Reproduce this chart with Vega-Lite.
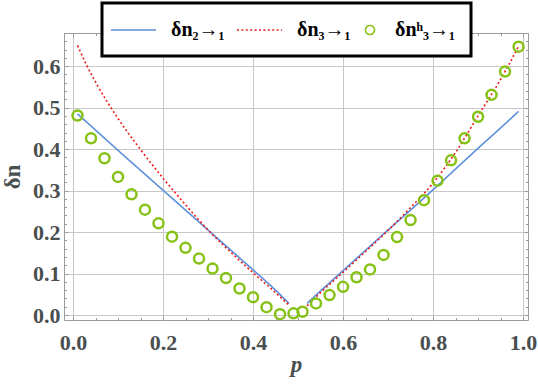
{
  "$schema": "https://vega.github.io/schema/vega-lite/v6.json",
  "width": 464,
  "height": 287,
  "autosize": {"type": "none"},
  "padding": {"left": 64, "top": 33, "right": 10, "bottom": 67},
  "background": "white",
  "config": {
    "view": {"stroke": "#9a9a9a", "strokeWidth": 1},
    "font": "Liberation Serif",
    "legend": {
      "orient": "none", "legendX": 38, "legendY": -30,
      "direction": "horizontal", "columnPadding": 8,
      "symbolSize": 400, "symbolStrokeWidth": 1.6, "labelOffset": 14,
      "labelFont": "Liberation Serif", "labelFontWeight": "bold", "labelFontSize": 20, "labelColor": "black",
      "titleOrient": "left", "titleFontSize": 10, "titlePadding": 17,
      "padding": 16, "strokeColor": "black", "strokeWidth": 3, "fillColor": "white", "cornerRadius": 0
    }
  },
  "datasets": {
    "lines": [
      {"series": "δn₂→₁", "seg": "L", "p": 0.01, "n": 0.485},
      {"series": "δn₂→₁", "seg": "L", "p": 0.05, "n": 0.446},
      {"series": "δn₂→₁", "seg": "L", "p": 0.1, "n": 0.397},
      {"series": "δn₂→₁", "seg": "L", "p": 0.15, "n": 0.349},
      {"series": "δn₂→₁", "seg": "L", "p": 0.2, "n": 0.301},
      {"series": "δn₂→₁", "seg": "L", "p": 0.25, "n": 0.253},
      {"series": "δn₂→₁", "seg": "L", "p": 0.3, "n": 0.205},
      {"series": "δn₂→₁", "seg": "L", "p": 0.35, "n": 0.157},
      {"series": "δn₂→₁", "seg": "L", "p": 0.4, "n": 0.109},
      {"series": "δn₂→₁", "seg": "L", "p": 0.45, "n": 0.06},
      {"series": "δn₂→₁", "seg": "L", "p": 0.48, "n": 0.028},
      {"series": "δn₂→₁", "seg": "R", "p": 0.52, "n": 0.028},
      {"series": "δn₂→₁", "seg": "R", "p": 0.55, "n": 0.058},
      {"series": "δn₂→₁", "seg": "R", "p": 0.6, "n": 0.107},
      {"series": "δn₂→₁", "seg": "R", "p": 0.65, "n": 0.156},
      {"series": "δn₂→₁", "seg": "R", "p": 0.7, "n": 0.205},
      {"series": "δn₂→₁", "seg": "R", "p": 0.75, "n": 0.253},
      {"series": "δn₂→₁", "seg": "R", "p": 0.8, "n": 0.302},
      {"series": "δn₂→₁", "seg": "R", "p": 0.85, "n": 0.352},
      {"series": "δn₂→₁", "seg": "R", "p": 0.9, "n": 0.402},
      {"series": "δn₂→₁", "seg": "R", "p": 0.95, "n": 0.451},
      {"series": "δn₂→₁", "seg": "R", "p": 0.99, "n": 0.491},
      {"series": "δn₃→₁", "seg": "L", "p": 0.01, "n": 0.65},
      {"series": "δn₃→₁", "seg": "L", "p": 0.03, "n": 0.603},
      {"series": "δn₃→₁", "seg": "L", "p": 0.05, "n": 0.562},
      {"series": "δn₃→₁", "seg": "L", "p": 0.1, "n": 0.474},
      {"series": "δn₃→₁", "seg": "L", "p": 0.15, "n": 0.399},
      {"series": "δn₃→₁", "seg": "L", "p": 0.2, "n": 0.33},
      {"series": "δn₃→₁", "seg": "L", "p": 0.25, "n": 0.266},
      {"series": "δn₃→₁", "seg": "L", "p": 0.3, "n": 0.205},
      {"series": "δn₃→₁", "seg": "L", "p": 0.35, "n": 0.152},
      {"series": "δn₃→₁", "seg": "L", "p": 0.4, "n": 0.102},
      {"series": "δn₃→₁", "seg": "L", "p": 0.45, "n": 0.054},
      {"series": "δn₃→₁", "seg": "L", "p": 0.48, "n": 0.024},
      {"series": "δn₃→₁", "seg": "R", "p": 0.52, "n": 0.022},
      {"series": "δn₃→₁", "seg": "R", "p": 0.55, "n": 0.054},
      {"series": "δn₃→₁", "seg": "R", "p": 0.6, "n": 0.103},
      {"series": "δn₃→₁", "seg": "R", "p": 0.65, "n": 0.153},
      {"series": "δn₃→₁", "seg": "R", "p": 0.7, "n": 0.204},
      {"series": "δn₃→₁", "seg": "R", "p": 0.75, "n": 0.259},
      {"series": "δn₃→₁", "seg": "R", "p": 0.8, "n": 0.318},
      {"series": "δn₃→₁", "seg": "R", "p": 0.85, "n": 0.392},
      {"series": "δn₃→₁", "seg": "R", "p": 0.9, "n": 0.48},
      {"series": "δn₃→₁", "seg": "R", "p": 0.95, "n": 0.568},
      {"series": "δn₃→₁", "seg": "R", "p": 0.97, "n": 0.607},
      {"series": "δn₃→₁", "seg": "R", "p": 0.99, "n": 0.648}
    ],
    "points": [
      {"series": "δnʰ₃→₁", "p": 0.01, "n": 0.481},
      {"series": "δnʰ₃→₁", "p": 0.04, "n": 0.426},
      {"series": "δnʰ₃→₁", "p": 0.07, "n": 0.378},
      {"series": "δnʰ₃→₁", "p": 0.10, "n": 0.333},
      {"series": "δnʰ₃→₁", "p": 0.13, "n": 0.291},
      {"series": "δnʰ₃→₁", "p": 0.16, "n": 0.254},
      {"series": "δnʰ₃→₁", "p": 0.19, "n": 0.221},
      {"series": "δnʰ₃→₁", "p": 0.22, "n": 0.189},
      {"series": "δnʰ₃→₁", "p": 0.25, "n": 0.162},
      {"series": "δnʰ₃→₁", "p": 0.28, "n": 0.136},
      {"series": "δnʰ₃→₁", "p": 0.31, "n": 0.112},
      {"series": "δnʰ₃→₁", "p": 0.34, "n": 0.089},
      {"series": "δnʰ₃→₁", "p": 0.37, "n": 0.064},
      {"series": "δnʰ₃→₁", "p": 0.40, "n": 0.043},
      {"series": "δnʰ₃→₁", "p": 0.43, "n": 0.019},
      {"series": "δnʰ₃→₁", "p": 0.46, "n": 0.002},
      {"series": "δnʰ₃→₁", "p": 0.49, "n": 0.004},
      {"series": "δnʰ₃→₁", "p": 0.51, "n": 0.008},
      {"series": "δnʰ₃→₁", "p": 0.54, "n": 0.028},
      {"series": "δnʰ₃→₁", "p": 0.57, "n": 0.048},
      {"series": "δnʰ₃→₁", "p": 0.60, "n": 0.068},
      {"series": "δnʰ₃→₁", "p": 0.63, "n": 0.091},
      {"series": "δnʰ₃→₁", "p": 0.66, "n": 0.110},
      {"series": "δnʰ₃→₁", "p": 0.69, "n": 0.145},
      {"series": "δnʰ₃→₁", "p": 0.72, "n": 0.188},
      {"series": "δnʰ₃→₁", "p": 0.75, "n": 0.229},
      {"series": "δnʰ₃→₁", "p": 0.78, "n": 0.277},
      {"series": "δnʰ₃→₁", "p": 0.81, "n": 0.324},
      {"series": "δnʰ₃→₁", "p": 0.84, "n": 0.373},
      {"series": "δnʰ₃→₁", "p": 0.87, "n": 0.426},
      {"series": "δnʰ₃→₁", "p": 0.90, "n": 0.478},
      {"series": "δnʰ₃→₁", "p": 0.93, "n": 0.531},
      {"series": "δnʰ₃→₁", "p": 0.96, "n": 0.587},
      {"series": "δnʰ₃→₁", "p": 0.99, "n": 0.647}
    ]
  },
  "layer": [
    {
      "data": {"name": "lines"},
      "mark": {"type": "line", "strokeWidth": 1.6, "interpolate": "monotone"},
      "encoding": {
        "x": {
          "field": "p", "type": "quantitative",
          "scale": {"domain": [-0.02, 1.011], "nice": false, "zero": false},
          "axis": {
            "orient": "bottom",
            "title": "p",
            "titleFont": "Liberation Serif", "titleFontStyle": "italic", "titleFontWeight": "bold",
            "titleFontSize": 23, "titleColor": "#4a4f4f", "titlePadding": -1,
            "values": [0, 0.05, 0.1, 0.15, 0.2, 0.25, 0.3, 0.35, 0.4, 0.45, 0.5, 0.55, 0.6, 0.65, 0.7, 0.75, 0.8, 0.85, 0.9, 0.95, 1.0],
            "labelExpr": "abs(datum.value*5 - round(datum.value*5)) < 0.001 ? format(datum.value, '.1f') : ''",
            "labelFont": "Liberation Serif", "labelFontWeight": "bold", "labelFontSize": 22,
            "labelColor": "#4a4f4f", "labelOverlap": false, "labelFlush": false,
            "labelPadding": 16,
            "domain": false,
            "tickColor": "#9a9a9a",
            "tickSize": {"condition": {"test": "abs(datum.value*5 - round(datum.value*5)) < 0.001", "value": -4}, "value": -2.5},
            "grid": true,
            "gridColor": "#c8c8c8",
            "gridOpacity": {"condition": {"test": "abs(datum.value*5 - round(datum.value*5)) < 0.001", "value": 1}, "value": 0}
          }
        },
        "y": {
          "field": "n", "type": "quantitative",
          "scale": {"domain": [-0.012, 0.68], "nice": false, "zero": false},
          "axis": {
            "orient": "left",
            "title": "δn",
            "titleFont": "Liberation Serif", "titleFontWeight": "bold",
            "titleFontSize": 23, "titleColor": "#4a4f4f", "titlePadding": 8,
            "values": [0, 0.02, 0.04, 0.06, 0.08, 0.1, 0.12, 0.14, 0.16, 0.18, 0.2, 0.22, 0.24, 0.26, 0.28, 0.3, 0.32, 0.34, 0.36, 0.38, 0.4, 0.42, 0.44, 0.46, 0.48, 0.5, 0.52, 0.54, 0.56, 0.58, 0.6, 0.62, 0.64, 0.66, 0.68],
            "labelExpr": "abs(datum.value*10 - round(datum.value*10)) < 0.001 ? format(datum.value, '.1f') : ''",
            "labelFont": "Liberation Serif", "labelFontWeight": "bold", "labelFontSize": 22,
            "labelColor": "#4a4f4f", "labelOverlap": false, "labelFlush": false,
            "labelPadding": 8,
            "domain": false,
            "tickColor": "#9a9a9a",
            "tickSize": {"condition": {"test": "abs(datum.value*10 - round(datum.value*10)) < 0.001", "value": -4}, "value": -2.5},
            "grid": true,
            "gridColor": "#c8c8c8",
            "gridOpacity": {"condition": {"test": "abs(datum.value*10 - round(datum.value*10)) < 0.001", "value": 1}, "value": 0}
          }
        },
        "color": {
          "field": "series", "type": "nominal",
          "scale": {"domain": ["δn₂→₁", "δn₃→₁", "δnʰ₃→₁"], "range": ["#5b8fdc", "#ee1c1c", "#86c216"]},
          "legend": {"title": " "}
        },
        "strokeDash": {
          "field": "series", "type": "nominal",
          "scale": {"domain": ["δn₂→₁", "δn₃→₁", "δnʰ₃→₁"], "range": [[1, 0], [2, 2.4], [1, 0]]},
          "legend": {"title": " "}
        },
        "detail": {"field": "seg", "type": "nominal"}
      }
    },
    {
      "data": {"name": "points"},
      "mark": {"type": "point", "filled": false, "strokeWidth": 2.5, "size": 494, "opacity": 1},
      "encoding": {
        "x": {
          "field": "p", "type": "quantitative",
          "scale": {"domain": [-0.02, 1.011], "nice": false, "zero": false},
          "axis": {
            "orient": "top", "title": null, "labels": false, "domain": false, "grid": false,
            "values": [0, 0.05, 0.1, 0.15, 0.2, 0.25, 0.3, 0.35, 0.4, 0.45, 0.5, 0.55, 0.6, 0.65, 0.7, 0.75, 0.8, 0.85, 0.9, 0.95, 1.0],
            "tickColor": "#9a9a9a",
            "tickSize": {"condition": {"test": "abs(datum.value*5 - round(datum.value*5)) < 0.001", "value": -4}, "value": -2.5}
          }
        },
        "y": {
          "field": "n", "type": "quantitative",
          "scale": {"domain": [-0.012, 0.68], "nice": false, "zero": false},
          "axis": {
            "orient": "right", "title": null, "labels": false, "domain": false, "grid": false,
            "values": [0, 0.02, 0.04, 0.06, 0.08, 0.1, 0.12, 0.14, 0.16, 0.18, 0.2, 0.22, 0.24, 0.26, 0.28, 0.3, 0.32, 0.34, 0.36, 0.38, 0.4, 0.42, 0.44, 0.46, 0.48, 0.5, 0.52, 0.54, 0.56, 0.58, 0.6, 0.62, 0.64, 0.66, 0.68],
            "tickColor": "#9a9a9a",
            "tickSize": {"condition": {"test": "abs(datum.value*10 - round(datum.value*10)) < 0.001", "value": -4}, "value": -2.5}
          }
        },
        "color": {
          "field": "series", "type": "nominal",
          "scale": {"domain": ["δn₂→₁", "δn₃→₁", "δnʰ₃→₁"], "range": ["#5b8fdc", "#ee1c1c", "#86c216"]},
          "legend": {"title": " "}
        },
        "shape": {
          "field": "series", "type": "nominal",
          "scale": {"domain": ["δn₂→₁", "δn₃→₁", "δnʰ₃→₁"], "range": ["M-3.5,0H1", "M-3.5,0H1", "M0.45,0A0.45,0.45 0 1,1 -0.45,0A0.45,0.45 0 1,1 0.45,0Z"]},
          "legend": {"title": " "}
        }
      }
    }
  ],
  "resolve": {"axis": {"x": "independent", "y": "independent"}}
}
